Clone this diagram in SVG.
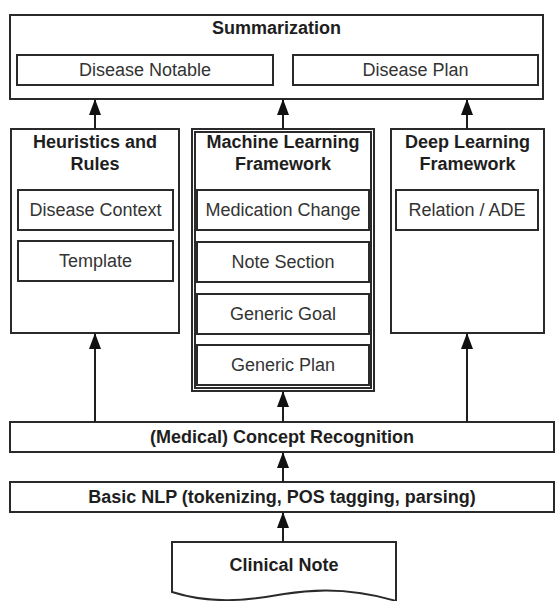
<svg xmlns="http://www.w3.org/2000/svg" width="555" height="601" viewBox="0 0 555 601">
<style>
.box{fill:#fff;stroke:#2a2a2a;stroke-width:2}
.title{font-family:"Liberation Sans",Arial,sans-serif;font-size:18px;font-weight:bold;fill:#1e1e1e;text-anchor:middle}
.lbl{font-family:"Liberation Sans",Arial,sans-serif;font-size:18px;fill:#333;text-anchor:middle}
.conn{stroke:#1e1e1e;stroke-width:2;fill:none}
</style>
<defs>
<marker id="arr" markerUnits="userSpaceOnUse" markerWidth="16" markerHeight="14" viewBox="0 0 16 14" refX="15" refY="6" orient="auto">
<path d="M0,0 L16,6 L0,12 Z" fill="#111"/>
</marker>
</defs>
<rect width="555" height="601" fill="#fff"/>

<g id="summarization">
<rect class="box" x="10" y="15" width="533" height="84"/>
<text class="title" x="276.5" y="34">Summarization</text>
<g id="disease-notable"><rect class="box" x="17" y="55" width="256" height="30"/><text class="lbl" x="145" y="76">Disease Notable</text></g>
<g id="disease-plan"><rect class="box" x="293" y="55" width="245" height="30"/><text class="lbl" x="415.5" y="76">Disease Plan</text></g>
</g>

<g id="heuristics">
<rect class="box" x="11" y="129" width="168" height="204"/>
<text class="title" x="95" y="148">Heuristics and</text>
<text class="title" x="95" y="170">Rules</text>
<g id="disease-context"><rect class="box" x="18" y="190" width="155" height="40"/><text class="lbl" x="95.5" y="216">Disease Context</text></g>
<g id="template"><rect class="box" x="18" y="241" width="155" height="40"/><text class="lbl" x="95.5" y="267">Template</text></g>
</g>

<g id="ml">
<rect class="box" x="192" y="129" width="182" height="262"/>
<rect class="box" x="195" y="132" width="176" height="256"/>
<text class="title" x="283" y="148">Machine Learning</text>
<text class="title" x="283" y="170">Framework</text>
<g id="medication-change"><rect class="box" x="197" y="190" width="172" height="40"/><text class="lbl" x="283" y="216">Medication Change</text></g>
<g id="note-section"><rect class="box" x="197" y="242" width="172" height="40"/><text class="lbl" x="283" y="268">Note Section</text></g>
<g id="generic-goal"><rect class="box" x="197" y="294" width="172" height="40"/><text class="lbl" x="283" y="320">Generic Goal</text></g>
<g id="generic-plan"><rect class="box" x="197" y="345" width="172" height="40"/><text class="lbl" x="283" y="371">Generic Plan</text></g>
</g>

<g id="deep">
<rect class="box" x="391" y="129" width="153" height="204"/>
<text class="title" x="467.5" y="148">Deep Learning</text>
<text class="title" x="467.5" y="170">Framework</text>
<g id="relation-ade"><rect class="box" x="396" y="190" width="142" height="40"/><text class="lbl" x="467" y="216">Relation / ADE</text></g>
</g>

<g id="concept">
<rect class="box" x="10" y="422" width="544" height="30"/>
<text class="title" x="282" y="443">(Medical) Concept Recognition</text>
</g>

<g id="nlp">
<rect class="box" x="10" y="482" width="544" height="30"/>
<text class="title" x="282" y="503">Basic NLP (tokenizing, POS tagging, parsing)</text>
</g>

<g id="clinical-note">
<path class="box" d="M172,542 H396 V601 C360,590 325,587 284,594 C245,601 210,604 172,592 Z"/>
<text class="title" x="284" y="571">Clinical Note</text>
</g>

<g id="connectors">
<line class="conn" x1="95" y1="129" x2="95" y2="100" marker-end="url(#arr)"/>
<line class="conn" x1="283" y1="129" x2="283" y2="100" marker-end="url(#arr)"/>
<line class="conn" x1="467" y1="129" x2="467" y2="100" marker-end="url(#arr)"/>
<line class="conn" x1="95" y1="422" x2="95" y2="334" marker-end="url(#arr)"/>
<line class="conn" x1="283" y1="422" x2="283" y2="392" marker-end="url(#arr)"/>
<line class="conn" x1="467" y1="422" x2="467" y2="334" marker-end="url(#arr)"/>
<line class="conn" x1="283" y1="482" x2="283" y2="453" marker-end="url(#arr)"/>
<line class="conn" x1="283" y1="542" x2="283" y2="513" marker-end="url(#arr)"/>
</g>
</svg>
